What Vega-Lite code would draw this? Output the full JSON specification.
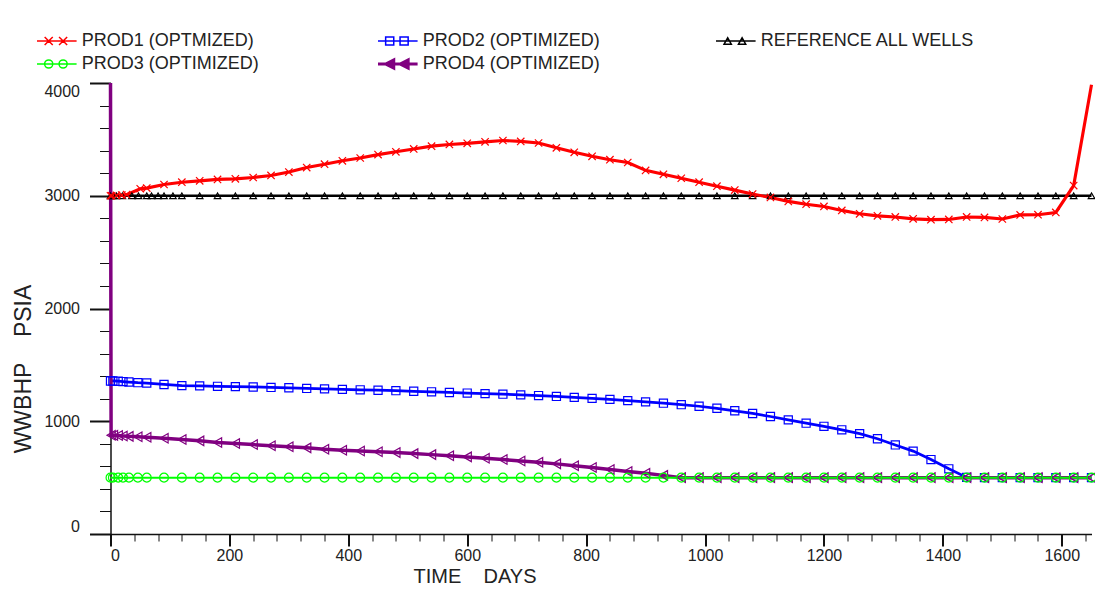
{
  "$schema": "https://vega.github.io/schema/vega-lite/v6.json",
  "width": 981,
  "height": 451,
  "autosize": {"type": "none"},
  "padding": {"left": 110.5, "top": 83, "right": 3.5, "bottom": 63},
  "background": "white",
  "config": {"view": {"stroke": null}, "font": "Liberation Sans"},
  "data": {"values": [
    {"s":"REFERENCE ALL WELLS","t":0,"v":3000},{"s":"REFERENCE ALL WELLS","t":5,"v":3000},{"s":"REFERENCE ALL WELLS","t":10,"v":3000},{"s":"REFERENCE ALL WELLS","t":20,"v":3000},{"s":"REFERENCE ALL WELLS","t":36,"v":3000},{"s":"REFERENCE ALL WELLS","t":47,"v":3000},{"s":"REFERENCE ALL WELLS","t":61,"v":3000},{"s":"REFERENCE ALL WELLS","t":69,"v":3000},{"s":"REFERENCE ALL WELLS","t":80,"v":3000},{"s":"REFERENCE ALL WELLS","t":90,"v":3000},{"s":"REFERENCE ALL WELLS","t":105,"v":3000},{"s":"REFERENCE ALL WELLS","t":120,"v":3000},{"s":"REFERENCE ALL WELLS","t":150,"v":3000},{"s":"REFERENCE ALL WELLS","t":180,"v":3000},{"s":"REFERENCE ALL WELLS","t":210,"v":3000},{"s":"REFERENCE ALL WELLS","t":240,"v":3000},{"s":"REFERENCE ALL WELLS","t":270,"v":3000},{"s":"REFERENCE ALL WELLS","t":300,"v":3000},{"s":"REFERENCE ALL WELLS","t":330,"v":3000},{"s":"REFERENCE ALL WELLS","t":360,"v":3000},{"s":"REFERENCE ALL WELLS","t":390,"v":3000},{"s":"REFERENCE ALL WELLS","t":420,"v":3000},{"s":"REFERENCE ALL WELLS","t":450,"v":3000},{"s":"REFERENCE ALL WELLS","t":480,"v":3000},{"s":"REFERENCE ALL WELLS","t":510,"v":3000},{"s":"REFERENCE ALL WELLS","t":540,"v":3000},{"s":"REFERENCE ALL WELLS","t":570,"v":3000},{"s":"REFERENCE ALL WELLS","t":600,"v":3000},{"s":"REFERENCE ALL WELLS","t":630,"v":3000},{"s":"REFERENCE ALL WELLS","t":660,"v":3000},{"s":"REFERENCE ALL WELLS","t":690,"v":3000},{"s":"REFERENCE ALL WELLS","t":720,"v":3000},{"s":"REFERENCE ALL WELLS","t":750,"v":3000},{"s":"REFERENCE ALL WELLS","t":780,"v":3000},{"s":"REFERENCE ALL WELLS","t":810,"v":3000},{"s":"REFERENCE ALL WELLS","t":840,"v":3000},{"s":"REFERENCE ALL WELLS","t":870,"v":3000},{"s":"REFERENCE ALL WELLS","t":900,"v":3000},{"s":"REFERENCE ALL WELLS","t":930,"v":3000},{"s":"REFERENCE ALL WELLS","t":960,"v":3000},{"s":"REFERENCE ALL WELLS","t":990,"v":3000},{"s":"REFERENCE ALL WELLS","t":1020,"v":3000},{"s":"REFERENCE ALL WELLS","t":1050,"v":3000},{"s":"REFERENCE ALL WELLS","t":1080,"v":3000},{"s":"REFERENCE ALL WELLS","t":1110,"v":3000},{"s":"REFERENCE ALL WELLS","t":1140,"v":3000},{"s":"REFERENCE ALL WELLS","t":1170,"v":3000},{"s":"REFERENCE ALL WELLS","t":1200,"v":3000},{"s":"REFERENCE ALL WELLS","t":1230,"v":3000},{"s":"REFERENCE ALL WELLS","t":1260,"v":3000},{"s":"REFERENCE ALL WELLS","t":1290,"v":3000},{"s":"REFERENCE ALL WELLS","t":1320,"v":3000},{"s":"REFERENCE ALL WELLS","t":1350,"v":3000},{"s":"REFERENCE ALL WELLS","t":1380,"v":3000},{"s":"REFERENCE ALL WELLS","t":1410,"v":3000},{"s":"REFERENCE ALL WELLS","t":1440,"v":3000},{"s":"REFERENCE ALL WELLS","t":1470,"v":3000},{"s":"REFERENCE ALL WELLS","t":1500,"v":3000},{"s":"REFERENCE ALL WELLS","t":1530,"v":3000},{"s":"REFERENCE ALL WELLS","t":1560,"v":3000},{"s":"REFERENCE ALL WELLS","t":1590,"v":3000},{"s":"REFERENCE ALL WELLS","t":1620,"v":3000},{"s":"REFERENCE ALL WELLS","t":1650,"v":3000},
    {"s":"PROD1 (OPTMIZED)","t":0,"v":3000},{"s":"PROD1 (OPTMIZED)","t":2,"v":3000},{"s":"PROD1 (OPTMIZED)","t":10,"v":3003},{"s":"PROD1 (OPTMIZED)","t":19,"v":3006},{"s":"PROD1 (OPTMIZED)","t":27,"v":3010},{"s":"PROD1 (OPTMIZED)","t":50,"v":3062},{"s":"PROD1 (OPTMIZED)","t":61,"v":3068},{"s":"PROD1 (OPTMIZED)","t":90,"v":3100},{"s":"PROD1 (OPTMIZED)","t":120,"v":3120},{"s":"PROD1 (OPTMIZED)","t":150,"v":3132},{"s":"PROD1 (OPTMIZED)","t":180,"v":3145},{"s":"PROD1 (OPTMIZED)","t":210,"v":3150},{"s":"PROD1 (OPTMIZED)","t":240,"v":3162},{"s":"PROD1 (OPTMIZED)","t":270,"v":3180},{"s":"PROD1 (OPTMIZED)","t":300,"v":3210},{"s":"PROD1 (OPTMIZED)","t":330,"v":3250},{"s":"PROD1 (OPTMIZED)","t":360,"v":3280},{"s":"PROD1 (OPTMIZED)","t":390,"v":3310},{"s":"PROD1 (OPTMIZED)","t":420,"v":3335},{"s":"PROD1 (OPTMIZED)","t":450,"v":3365},{"s":"PROD1 (OPTMIZED)","t":480,"v":3390},{"s":"PROD1 (OPTMIZED)","t":510,"v":3415},{"s":"PROD1 (OPTMIZED)","t":540,"v":3440},{"s":"PROD1 (OPTMIZED)","t":570,"v":3455},{"s":"PROD1 (OPTMIZED)","t":600,"v":3465},{"s":"PROD1 (OPTMIZED)","t":630,"v":3478},{"s":"PROD1 (OPTMIZED)","t":660,"v":3490},{"s":"PROD1 (OPTMIZED)","t":690,"v":3482},{"s":"PROD1 (OPTMIZED)","t":720,"v":3468},{"s":"PROD1 (OPTMIZED)","t":750,"v":3425},{"s":"PROD1 (OPTMIZED)","t":780,"v":3385},{"s":"PROD1 (OPTMIZED)","t":810,"v":3350},{"s":"PROD1 (OPTMIZED)","t":840,"v":3320},{"s":"PROD1 (OPTMIZED)","t":870,"v":3295},{"s":"PROD1 (OPTMIZED)","t":900,"v":3225},{"s":"PROD1 (OPTMIZED)","t":930,"v":3190},{"s":"PROD1 (OPTMIZED)","t":960,"v":3155},{"s":"PROD1 (OPTMIZED)","t":990,"v":3120},{"s":"PROD1 (OPTMIZED)","t":1020,"v":3085},{"s":"PROD1 (OPTMIZED)","t":1050,"v":3050},{"s":"PROD1 (OPTMIZED)","t":1080,"v":3015},{"s":"PROD1 (OPTMIZED)","t":1110,"v":2985},{"s":"PROD1 (OPTMIZED)","t":1140,"v":2950},{"s":"PROD1 (OPTMIZED)","t":1170,"v":2925},{"s":"PROD1 (OPTMIZED)","t":1200,"v":2905},{"s":"PROD1 (OPTMIZED)","t":1230,"v":2870},{"s":"PROD1 (OPTMIZED)","t":1260,"v":2840},{"s":"PROD1 (OPTMIZED)","t":1290,"v":2822},{"s":"PROD1 (OPTMIZED)","t":1320,"v":2812},{"s":"PROD1 (OPTMIZED)","t":1350,"v":2795},{"s":"PROD1 (OPTMIZED)","t":1380,"v":2788},{"s":"PROD1 (OPTMIZED)","t":1410,"v":2790},{"s":"PROD1 (OPTMIZED)","t":1440,"v":2812},{"s":"PROD1 (OPTMIZED)","t":1470,"v":2808},{"s":"PROD1 (OPTMIZED)","t":1500,"v":2794},{"s":"PROD1 (OPTMIZED)","t":1530,"v":2830},{"s":"PROD1 (OPTMIZED)","t":1560,"v":2832},{"s":"PROD1 (OPTMIZED)","t":1590,"v":2852},{"s":"PROD1 (OPTMIZED)","t":1620,"v":3090},{"s":"PROD1 (OPTMIZED)","t":1650,"v":3985},
    {"s":"PROD2 (OPTIMIZED)","t":0,"v":1357},{"s":"PROD2 (OPTIMIZED)","t":4,"v":1357},{"s":"PROD2 (OPTIMIZED)","t":13,"v":1355},{"s":"PROD2 (OPTIMIZED)","t":21,"v":1352},{"s":"PROD2 (OPTIMIZED)","t":31,"v":1348},{"s":"PROD2 (OPTIMIZED)","t":46,"v":1342},{"s":"PROD2 (OPTIMIZED)","t":61,"v":1339},{"s":"PROD2 (OPTIMIZED)","t":90,"v":1326},{"s":"PROD2 (OPTIMIZED)","t":120,"v":1316},{"s":"PROD2 (OPTIMIZED)","t":150,"v":1314},{"s":"PROD2 (OPTIMIZED)","t":180,"v":1310},{"s":"PROD2 (OPTIMIZED)","t":210,"v":1307},{"s":"PROD2 (OPTIMIZED)","t":240,"v":1304},{"s":"PROD2 (OPTIMIZED)","t":270,"v":1300},{"s":"PROD2 (OPTIMIZED)","t":300,"v":1297},{"s":"PROD2 (OPTIMIZED)","t":330,"v":1291},{"s":"PROD2 (OPTIMIZED)","t":360,"v":1287},{"s":"PROD2 (OPTIMIZED)","t":390,"v":1283},{"s":"PROD2 (OPTIMIZED)","t":420,"v":1279},{"s":"PROD2 (OPTIMIZED)","t":450,"v":1275},{"s":"PROD2 (OPTIMIZED)","t":480,"v":1271},{"s":"PROD2 (OPTIMIZED)","t":510,"v":1266},{"s":"PROD2 (OPTIMIZED)","t":540,"v":1261},{"s":"PROD2 (OPTIMIZED)","t":570,"v":1255},{"s":"PROD2 (OPTIMIZED)","t":600,"v":1250},{"s":"PROD2 (OPTIMIZED)","t":630,"v":1245},{"s":"PROD2 (OPTIMIZED)","t":660,"v":1240},{"s":"PROD2 (OPTIMIZED)","t":690,"v":1234},{"s":"PROD2 (OPTIMIZED)","t":720,"v":1228},{"s":"PROD2 (OPTIMIZED)","t":750,"v":1220},{"s":"PROD2 (OPTIMIZED)","t":780,"v":1212},{"s":"PROD2 (OPTIMIZED)","t":810,"v":1203},{"s":"PROD2 (OPTIMIZED)","t":840,"v":1194},{"s":"PROD2 (OPTIMIZED)","t":870,"v":1183},{"s":"PROD2 (OPTIMIZED)","t":900,"v":1172},{"s":"PROD2 (OPTIMIZED)","t":930,"v":1160},{"s":"PROD2 (OPTIMIZED)","t":960,"v":1147},{"s":"PROD2 (OPTIMIZED)","t":990,"v":1133},{"s":"PROD2 (OPTIMIZED)","t":1020,"v":1115},{"s":"PROD2 (OPTIMIZED)","t":1050,"v":1093},{"s":"PROD2 (OPTIMIZED)","t":1080,"v":1069},{"s":"PROD2 (OPTIMIZED)","t":1110,"v":1042},{"s":"PROD2 (OPTIMIZED)","t":1140,"v":1012},{"s":"PROD2 (OPTIMIZED)","t":1170,"v":983},{"s":"PROD2 (OPTIMIZED)","t":1200,"v":955},{"s":"PROD2 (OPTIMIZED)","t":1230,"v":924},{"s":"PROD2 (OPTIMIZED)","t":1260,"v":890},{"s":"PROD2 (OPTIMIZED)","t":1290,"v":845},{"s":"PROD2 (OPTIMIZED)","t":1320,"v":790},{"s":"PROD2 (OPTIMIZED)","t":1350,"v":735},{"s":"PROD2 (OPTIMIZED)","t":1380,"v":660},{"s":"PROD2 (OPTIMIZED)","t":1410,"v":578},{"s":"PROD2 (OPTIMIZED)","t":1440,"v":502},{"s":"PROD2 (OPTIMIZED)","t":1470,"v":500},{"s":"PROD2 (OPTIMIZED)","t":1500,"v":500},{"s":"PROD2 (OPTIMIZED)","t":1530,"v":500},{"s":"PROD2 (OPTIMIZED)","t":1560,"v":500},{"s":"PROD2 (OPTIMIZED)","t":1590,"v":500},{"s":"PROD2 (OPTIMIZED)","t":1620,"v":500},{"s":"PROD2 (OPTIMIZED)","t":1650,"v":500},
    {"s":"PROD4 (OPTIMIZED)","t":0,"v":4000},{"s":"PROD4 (OPTIMIZED)","t":1,"v":876},{"s":"PROD4 (OPTIMIZED)","t":5,"v":875},{"s":"PROD4 (OPTIMIZED)","t":13,"v":873},{"s":"PROD4 (OPTIMIZED)","t":21,"v":870},{"s":"PROD4 (OPTIMIZED)","t":31,"v":866},{"s":"PROD4 (OPTIMIZED)","t":46,"v":862},{"s":"PROD4 (OPTIMIZED)","t":61,"v":858},{"s":"PROD4 (OPTIMIZED)","t":90,"v":850},{"s":"PROD4 (OPTIMIZED)","t":120,"v":838},{"s":"PROD4 (OPTIMIZED)","t":150,"v":826},{"s":"PROD4 (OPTIMIZED)","t":180,"v":812},{"s":"PROD4 (OPTIMIZED)","t":210,"v":802},{"s":"PROD4 (OPTIMIZED)","t":240,"v":793},{"s":"PROD4 (OPTIMIZED)","t":270,"v":783},{"s":"PROD4 (OPTIMIZED)","t":300,"v":774},{"s":"PROD4 (OPTIMIZED)","t":330,"v":764},{"s":"PROD4 (OPTIMIZED)","t":360,"v":752},{"s":"PROD4 (OPTIMIZED)","t":390,"v":743},{"s":"PROD4 (OPTIMIZED)","t":420,"v":736},{"s":"PROD4 (OPTIMIZED)","t":450,"v":729},{"s":"PROD4 (OPTIMIZED)","t":480,"v":722},{"s":"PROD4 (OPTIMIZED)","t":510,"v":713},{"s":"PROD4 (OPTIMIZED)","t":540,"v":704},{"s":"PROD4 (OPTIMIZED)","t":570,"v":694},{"s":"PROD4 (OPTIMIZED)","t":600,"v":684},{"s":"PROD4 (OPTIMIZED)","t":630,"v":672},{"s":"PROD4 (OPTIMIZED)","t":660,"v":660},{"s":"PROD4 (OPTIMIZED)","t":690,"v":648},{"s":"PROD4 (OPTIMIZED)","t":720,"v":636},{"s":"PROD4 (OPTIMIZED)","t":750,"v":622},{"s":"PROD4 (OPTIMIZED)","t":780,"v":606},{"s":"PROD4 (OPTIMIZED)","t":810,"v":590},{"s":"PROD4 (OPTIMIZED)","t":840,"v":572},{"s":"PROD4 (OPTIMIZED)","t":870,"v":555},{"s":"PROD4 (OPTIMIZED)","t":900,"v":538},{"s":"PROD4 (OPTIMIZED)","t":930,"v":520},{"s":"PROD4 (OPTIMIZED)","t":960,"v":500},{"s":"PROD4 (OPTIMIZED)","t":990,"v":500},{"s":"PROD4 (OPTIMIZED)","t":1020,"v":500},{"s":"PROD4 (OPTIMIZED)","t":1050,"v":500},{"s":"PROD4 (OPTIMIZED)","t":1080,"v":500},{"s":"PROD4 (OPTIMIZED)","t":1110,"v":500},{"s":"PROD4 (OPTIMIZED)","t":1140,"v":500},{"s":"PROD4 (OPTIMIZED)","t":1170,"v":500},{"s":"PROD4 (OPTIMIZED)","t":1200,"v":500},{"s":"PROD4 (OPTIMIZED)","t":1230,"v":500},{"s":"PROD4 (OPTIMIZED)","t":1260,"v":500},{"s":"PROD4 (OPTIMIZED)","t":1290,"v":500},{"s":"PROD4 (OPTIMIZED)","t":1320,"v":500},{"s":"PROD4 (OPTIMIZED)","t":1350,"v":500},{"s":"PROD4 (OPTIMIZED)","t":1380,"v":500},{"s":"PROD4 (OPTIMIZED)","t":1410,"v":500},{"s":"PROD4 (OPTIMIZED)","t":1440,"v":500},{"s":"PROD4 (OPTIMIZED)","t":1470,"v":500},{"s":"PROD4 (OPTIMIZED)","t":1500,"v":500},{"s":"PROD4 (OPTIMIZED)","t":1530,"v":500},{"s":"PROD4 (OPTIMIZED)","t":1560,"v":500},{"s":"PROD4 (OPTIMIZED)","t":1590,"v":500},{"s":"PROD4 (OPTIMIZED)","t":1620,"v":500},{"s":"PROD4 (OPTIMIZED)","t":1650,"v":500},
    {"s":"PROD3 (OPTIMIZED)","t":0,"v":500},{"s":"PROD3 (OPTIMIZED)","t":4,"v":500},{"s":"PROD3 (OPTIMIZED)","t":13,"v":500},{"s":"PROD3 (OPTIMIZED)","t":21,"v":500},{"s":"PROD3 (OPTIMIZED)","t":31,"v":500},{"s":"PROD3 (OPTIMIZED)","t":46,"v":500},{"s":"PROD3 (OPTIMIZED)","t":61,"v":500},{"s":"PROD3 (OPTIMIZED)","t":90,"v":500},{"s":"PROD3 (OPTIMIZED)","t":120,"v":500},{"s":"PROD3 (OPTIMIZED)","t":150,"v":500},{"s":"PROD3 (OPTIMIZED)","t":180,"v":500},{"s":"PROD3 (OPTIMIZED)","t":210,"v":500},{"s":"PROD3 (OPTIMIZED)","t":240,"v":500},{"s":"PROD3 (OPTIMIZED)","t":270,"v":500},{"s":"PROD3 (OPTIMIZED)","t":300,"v":500},{"s":"PROD3 (OPTIMIZED)","t":330,"v":500},{"s":"PROD3 (OPTIMIZED)","t":360,"v":500},{"s":"PROD3 (OPTIMIZED)","t":390,"v":500},{"s":"PROD3 (OPTIMIZED)","t":420,"v":500},{"s":"PROD3 (OPTIMIZED)","t":450,"v":500},{"s":"PROD3 (OPTIMIZED)","t":480,"v":500},{"s":"PROD3 (OPTIMIZED)","t":510,"v":500},{"s":"PROD3 (OPTIMIZED)","t":540,"v":500},{"s":"PROD3 (OPTIMIZED)","t":570,"v":500},{"s":"PROD3 (OPTIMIZED)","t":600,"v":500},{"s":"PROD3 (OPTIMIZED)","t":630,"v":500},{"s":"PROD3 (OPTIMIZED)","t":660,"v":500},{"s":"PROD3 (OPTIMIZED)","t":690,"v":500},{"s":"PROD3 (OPTIMIZED)","t":720,"v":500},{"s":"PROD3 (OPTIMIZED)","t":750,"v":500},{"s":"PROD3 (OPTIMIZED)","t":780,"v":500},{"s":"PROD3 (OPTIMIZED)","t":810,"v":500},{"s":"PROD3 (OPTIMIZED)","t":840,"v":500},{"s":"PROD3 (OPTIMIZED)","t":870,"v":500},{"s":"PROD3 (OPTIMIZED)","t":900,"v":500},{"s":"PROD3 (OPTIMIZED)","t":930,"v":500},{"s":"PROD3 (OPTIMIZED)","t":960,"v":500},{"s":"PROD3 (OPTIMIZED)","t":990,"v":500},{"s":"PROD3 (OPTIMIZED)","t":1020,"v":500},{"s":"PROD3 (OPTIMIZED)","t":1050,"v":500},{"s":"PROD3 (OPTIMIZED)","t":1080,"v":500},{"s":"PROD3 (OPTIMIZED)","t":1110,"v":500},{"s":"PROD3 (OPTIMIZED)","t":1140,"v":500},{"s":"PROD3 (OPTIMIZED)","t":1170,"v":500},{"s":"PROD3 (OPTIMIZED)","t":1200,"v":500},{"s":"PROD3 (OPTIMIZED)","t":1230,"v":500},{"s":"PROD3 (OPTIMIZED)","t":1260,"v":500},{"s":"PROD3 (OPTIMIZED)","t":1290,"v":500},{"s":"PROD3 (OPTIMIZED)","t":1320,"v":500},{"s":"PROD3 (OPTIMIZED)","t":1350,"v":500},{"s":"PROD3 (OPTIMIZED)","t":1380,"v":500},{"s":"PROD3 (OPTIMIZED)","t":1410,"v":500},{"s":"PROD3 (OPTIMIZED)","t":1440,"v":500},{"s":"PROD3 (OPTIMIZED)","t":1470,"v":500},{"s":"PROD3 (OPTIMIZED)","t":1500,"v":500},{"s":"PROD3 (OPTIMIZED)","t":1530,"v":500},{"s":"PROD3 (OPTIMIZED)","t":1560,"v":500},{"s":"PROD3 (OPTIMIZED)","t":1590,"v":500},{"s":"PROD3 (OPTIMIZED)","t":1620,"v":500},{"s":"PROD3 (OPTIMIZED)","t":1650,"v":500}
  ]},
  "encoding": {
    "x": {
      "field": "t", "type": "quantitative",
      "scale": {"domain": [0, 1650], "nice": false, "zero": false},
      "axis": {
        "values": [0,40,80,120,160,200,240,280,320,360,400,440,480,520,560,600,640,680,720,760,800,840,880,920,960,1000,1040,1080,1120,1160,1200,1240,1280,1320,1360,1400,1440,1480,1520,1560,1600,1640],
        "format": "d",
        "labelExpr": "datum.value % 200 === 0 ? datum.label : ''",
        "labelFlush": true, "labelOverlap": false, "labelBound": false,
        "labelFont": "Liberation Sans", "labelFontSize": 16, "labelColor": "#222", "labelPadding": 1,
        "tickSize": {"condition": {"test": "datum.value % 200 === 0", "value": 12}, "value": 7},
        "tickWidth": {"condition": {"test": "datum.value % 200 === 0", "value": 2}, "value": 1},
        "tickColor": "#111",
        "domainColor": "#111", "domainWidth": 1.5, "grid": false,
        "title": "TIME\u00a0\u00a0\u00a0\u00a0DAYS",
        "titleFont": "Liberation Sans", "titleFontSize": 20, "titleFontWeight": "normal", "titleColor": "#222",
        "titleX": 364, "titleY": 48, "titleAlign": "center", "titleBaseline": "alphabetic", "titleAnchor": "start"
      }
    },
    "y": {
      "field": "v", "type": "quantitative",
      "scale": {"domain": [0, 4000], "nice": false},
      "axis": {
        "values": [0,200,400,600,800,1000,1200,1400,1600,1800,2000,2200,2400,2600,2800,3000,3200,3400,3600,3800,4000],
        "format": "d",
        "labelExpr": "datum.value % 1000 === 0 ? datum.label : ''",
        "labelFlush": true, "labelOverlap": false, "labelBound": false,
        "labelFont": "Liberation Sans", "labelFontSize": 16, "labelColor": "#222", "labelPadding": 10,
        "tickSize": {"condition": {"test": "datum.value % 1000 === 0", "value": 21}, "value": 11},
        "tickWidth": {"condition": {"test": "datum.value % 1000 === 0", "value": 2}, "value": 1},
        "tickColor": "#111",
        "domainColor": "#111", "domainWidth": 1.5, "grid": false,
        "title": "WWBHP\u00a0\u00a0\u00a0\u00a0PSIA",
        "titleFont": "Liberation Sans", "titleFontSize": 23, "titleFontWeight": "normal", "titleColor": "#222",
        "titleAngle": 270, "titleX": -80.5, "titleY": 285.5, "titleAlign": "center", "titleBaseline": "alphabetic", "titleAnchor": "start"
      }
    },
    "color": {
      "field": "s", "type": "nominal",
      "scale": {
        "domain": ["PROD1 (OPTMIZED)", "PROD2 (OPTIMIZED)", "REFERENCE ALL WELLS", "PROD3 (OPTIMIZED)", "PROD4 (OPTIMIZED)"],
        "range": ["#ff0000", "#0000ff", "#000000", "#00ff00", "#800080"]
      },
      "legend": {
        "orient": "none", "legendX": -62.7, "legendY": -51, "direction": "horizontal", "columns": 3,
        "title": null, "padding": 0,
        "labelFont": "Liberation Sans", "labelFontSize": 18, "labelColor": "#222", "labelLimit": 400,
        "symbolSize": 324, "symbolStrokeWidth": 1.5, "labelOffset": 16, "columnPadding": 112, "rowPadding": 3,
        "encode": {
          "symbols": {
            "update": {
              "shape": {"signal": "datum.value === 'PROD1 (OPTMIZED)' ? 'M-2.2,0H2.2M-1.35,-0.45L-0.45,0.45M-1.35,0.45L-0.45,-0.45M0.25,-0.45L1.15,0.45M0.25,0.45L1.15,-0.45' : datum.value === 'PROD2 (OPTIMIZED)' ? 'M-2.2,0H2.2M-1.35,-0.45H-0.45V0.45H-1.35ZM0.25,-0.45H1.15V0.45H0.25Z' : datum.value === 'REFERENCE ALL WELLS' ? 'M-2.2,0H2.2M-1.3,0.35L-0.9,-0.35L-0.5,0.35ZM0.3,0.35L0.7,-0.35L1.1,0.35Z' : datum.value === 'PROD3 (OPTIMIZED)' ? 'M-2.2,0H2.2M-1.35,0A0.45,0.45 0 1,0 -0.45,0A0.45,0.45 0 1,0 -1.35,0ZM0.25,0A0.45,0.45 0 1,0 1.15,0A0.45,0.45 0 1,0 0.25,0Z' : 'M-2.2,0H2.2M-1.35,0L-0.45,-0.45L-0.45,0.45ZM0.25,0L1.15,-0.45L1.15,0.45Z'"},
              "fill": {"value": "transparent"},
              "strokeWidth": {"signal": "datum.value === 'PROD4 (OPTIMIZED)' ? 3 : 1.5"},
              "opacity": {"value": 1}
            }
          }
        }
      }
    }
  },
  "layer": [
    {
      "transform": [{"filter": "datum.s !== 'PROD3 (OPTIMIZED)'"}],
      "mark": {"type": "line"},
      "encoding": {
        "strokeWidth": {
          "field": "s", "type": "nominal",
          "scale": {"domain": ["PROD4 (OPTIMIZED)", "PROD1 (OPTMIZED)", "PROD2 (OPTIMIZED)", "REFERENCE ALL WELLS", "PROD3 (OPTIMIZED)"], "range": [3.5, 2, 2, 2, 2]},
          "legend": null
        }
      }
    },
    {
      "transform": [{"filter": "datum.s === 'PROD3 (OPTIMIZED)'"}],
      "mark": {"type": "line", "strokeWidth": 2},
      "encoding": {}
    },
    {
      "transform": [{"filter": "datum.v < 3950"}],
      "mark": {"type": "point", "filled": false, "strokeWidth": 1.2, "opacity": 1},
      "encoding": {
        "shape": {
          "field": "s", "type": "nominal",
          "scale": {"domain": ["PROD2 (OPTIMIZED)", "PROD1 (OPTMIZED)", "REFERENCE ALL WELLS", "PROD3 (OPTIMIZED)", "PROD4 (OPTIMIZED)"], "range": ["square", "M-1,-1L1,1M-1,1L1,-1", "triangle-up", "circle", "triangle-left"]},
          "legend": null
        },
        "size": {
          "field": "s", "type": "nominal",
          "scale": {"domain": ["REFERENCE ALL WELLS", "PROD1 (OPTMIZED)", "PROD2 (OPTIMIZED)", "PROD3 (OPTIMIZED)", "PROD4 (OPTIMIZED)"], "range": [42, 90, 81, 64, 64]},
          "legend": null
        }
      }
    }
  ]
}
